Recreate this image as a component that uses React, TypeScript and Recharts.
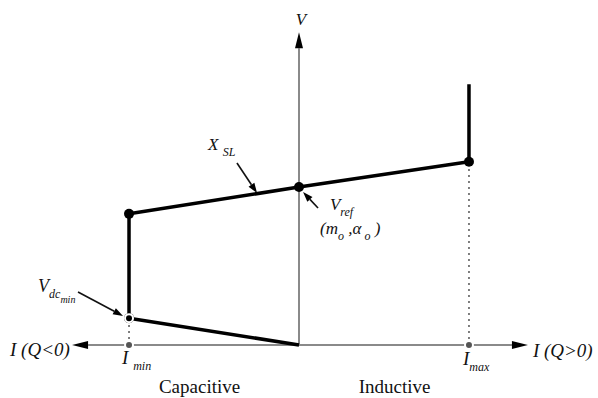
import { ComposedChart, Line, XAxis, YAxis, ReferenceLine, ReferenceDot } from 'recharts';

// V-I characteristic (per unit): current I, voltage V
const current = [0, -1, -1, 0, 1, 1];
const voltage = [0, 0.17, 0.83, 1.0, 1.16, 1.65];
const marked = [false, true, true, true, true, false];

const iAxisEnds = [-1.335, 1.347];
const vAxisTop = 1.98;

const curve = current.map((i, k) => ({ i, v: voltage[k] }));
// dotted drop lines at Imin / Imax
const drops = [
  [{ i: -1, v: 0 }, { i: -1, v: 0.17 }],
  [{ i: 1, v: 0 }, { i: 1, v: 1.16 }],
];

// pointer arrows for the annotations
const pointers = [
  [{ x: -0.365, y: 1.152 }, { x: -0.247, y: 0.962 }],
  [{ x: 0.112, y: 0.867 }, { x: 0.024, y: 0.968 }],
  [{ x: -1.3, y: 0.335 }, { x: -1.035, y: 0.184 }],
];

type Part = [string, number];
const labels: { x: number; y: number; parts: Part[]; size: number; italic: boolean; anchor: 'start' | 'middle' }[] = [
  { x: 0.012, y: 2.025, parts: [['V', 0]], size: 17, italic: true, anchor: 'middle' },
  { x: -1.7, y: -0.07, parts: [['I (Q<0)', 0]], size: 19, italic: true, anchor: 'start' },
  { x: 1.376, y: -0.076, parts: [['I (Q>0)', 0]], size: 19, italic: true, anchor: 'start' },
  { x: -1.041, y: -0.12, parts: [['I ', 0], ['min', 1]], size: 19, italic: true, anchor: 'start' },
  { x: 0.965, y: -0.127, parts: [['I', 0], ['max', 1]], size: 19, italic: true, anchor: 'start' },
  { x: -0.585, y: -0.304, parts: [['Capacitive', 0]], size: 19, italic: false, anchor: 'middle' },
  { x: 0.562, y: -0.304, parts: [['Inductive', 0]], size: 19, italic: false, anchor: 'middle' },
  { x: -0.535, y: 1.234, parts: [['X ', 0], ['SL', 1]], size: 17, italic: true, anchor: 'start' },
  { x: 0.182, y: 0.855, parts: [['V', 0], ['ref', 1]], size: 17, italic: true, anchor: 'start' },
  { x: 0.124, y: 0.7, parts: [['(m', 0], ['o', 1], [' ,\u03b1', 0], [' o', 1], [' )', 0]], size: 17, italic: true, anchor: 'start' },
  { x: -1.535, y: 0.335, parts: [['V', 0], ['dc', 1], ['min', 2]], size: 18, italic: true, anchor: 'start' },
];

const arrowShape = (color: string, w: number, len: number, half: number) => (p: any) => {
  const { x1, y1, x2, y2 } = p;
  const a = Math.atan2(y2 - y1, x2 - x1);
  const bx = x2 - len * Math.cos(a);
  const by = y2 - len * Math.sin(a);
  const nx = -Math.sin(a) * half;
  const ny = Math.cos(a) * half;
  return (
    <g>
      <line x1={x1} y1={y1} x2={bx} y2={by} stroke={color} strokeWidth={w} />
      <polygon points={`${x2},${y2} ${bx + nx},${by + ny} ${bx - nx},${by - ny}`} fill="#000" />
    </g>
  );
};

const textShape = (l: (typeof labels)[number]) => (p: any) => {
  const shifts = [0, 6, 11];
  let level = 0;
  return (
    <text x={p.cx} y={p.cy} textAnchor={l.anchor} fontFamily="'Liberation Serif', serif"
      fontStyle={l.italic ? 'italic' : 'normal'} fontSize={l.size} fill="#111">
      {l.parts.map(([t, lv], k) => {
        const dy = shifts[lv] - shifts[level];
        level = lv;
        return (
          <tspan key={k} dy={dy} fontSize={lv === 0 ? l.size : lv === 1 ? 12 : 10}>{t}</tspan>
        );
      })}
    </text>
  );
};

export default function App() {
  return (
    <div style={{ position: 'absolute', left: 0, top: 0, background: '#fff' }}>
      <ComposedChart width={598} height={398} margin={{ top: 0, right: 0, bottom: 0, left: 0 }}>
        <XAxis dataKey="i" type="number" domain={[-1.759, 1.759]} hide allowDataOverflow />
        <YAxis dataKey="v" type="number" domain={[-0.3354, 2.1835]} hide allowDataOverflow />

        <ReferenceLine segment={[{ x: 0, y: 0 }, { x: iAxisEnds[0], y: 0 }]} ifOverflow="visible"
          shape={arrowShape('#8a8a8a', 2, 16, 4)} />
        <ReferenceLine segment={[{ x: 0, y: 0 }, { x: iAxisEnds[1], y: 0 }]} ifOverflow="visible"
          shape={arrowShape('#8a8a8a', 2, 16, 4)} />
        <ReferenceLine segment={[{ x: 0, y: 0 }, { x: 0, y: vAxisTop }]} ifOverflow="visible"
          shape={arrowShape('#8a8a8a', 2, 16, 4)} />

        {drops.map((d, k) => (
          <Line key={`d${k}`} data={d} dataKey="v" stroke="#555" strokeWidth={1.5}
            strokeDasharray="2 4" dot={false} isAnimationActive={false} />
        ))}

        {pointers.map((s, k) => (
          <ReferenceLine key={`p${k}`} segment={s} ifOverflow="visible" shape={arrowShape('#111', 1.6, 10, 3.5)} />
        ))}

        <Line data={curve} dataKey="v" stroke="#000" strokeWidth={3.5} isAnimationActive={false}
          dot={(p: any) => marked[p.index]
            ? <circle key={p.index} cx={p.cx} cy={p.cy} r={5} fill="#000" />
            : <g key={p.index} />} />

        {labels.map((l, k) => (
          <ReferenceDot key={`l${k}`} x={l.x} y={l.y} ifOverflow="visible" shape={textShape(l)} />
        ))}
      </ComposedChart>
    </div>
  );
}
